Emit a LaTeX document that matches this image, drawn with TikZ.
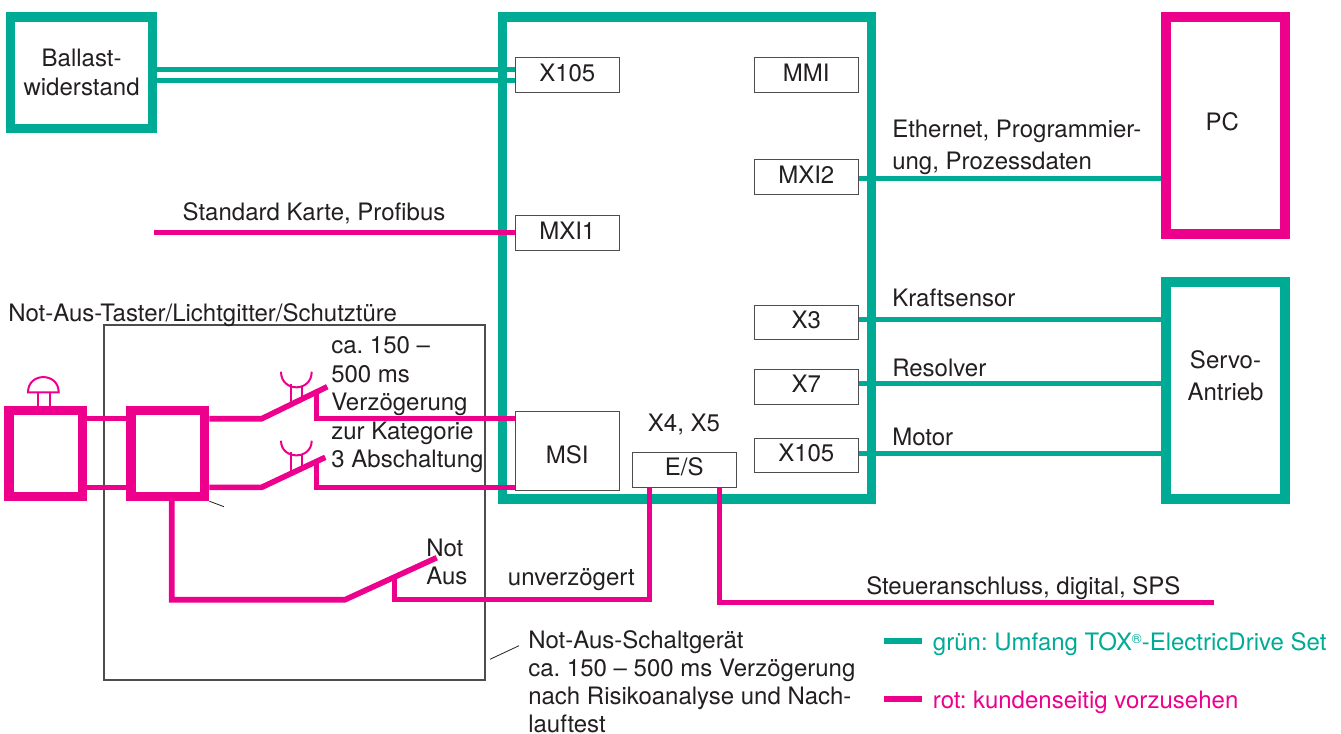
\documentclass[tikz,border=0pt]{standalone}
\usepackage{fontspec}
\setmainfont{TeX Gyre Heros}
\definecolor{gruen}{HTML}{00AB96}
\definecolor{rot}{HTML}{EC008C}
\definecolor{ink}{HTML}{231F20}
\begin{document}
\begin{tikzpicture}[x=.75pt,y=-.75pt,
  every node/.style={inner sep=0pt,text=ink,font=\fontsize{18}{21.4}\selectfont\frenchspacing},
  greenbox/.style={draw=gruen,line width=7pt,fill=white},
  redbox/.style={draw=rot,line width=7pt,fill=white},
  port/.style={draw=ink!80,line width=.9pt,fill=white,minimum width=78pt,minimum height=26pt,text height=9pt,text depth=0pt},
  lab/.style={anchor=base west},
  mlab/.style={anchor=base west,align=left},
  gline/.style={draw=gruen,line width=3.75pt},
  rline/.style={draw=rot,line width=3.75pt},
  blade/.style={draw=rot,line width=4.2pt},
  act/.style={draw=rot,line width=1.5pt},
  thin/.style={draw=ink,line width=.6pt}]
\useasboundingbox (0,0) rectangle (1341,733);
% enclosures
\node[draw=ink!80,line width=.8pt,minimum width=285.75pt,minimum height=266.25pt] (relay) at (294.5,502.5) {};
\node[draw=gruen,line width=7.2pt,minimum width=276.75pt,minimum height=361.5pt] (main) at (687,258) {};
% ports
\node[port] (x105l) at (567.3,75) {X105};
\node[port] (mxi1) at (567.3,233) {MXI1};
\node[port] (mmi) at (806.3,75) {MMI};
\node[port] (mxi2) at (806.3,177.2) {MXI2};
\node[port] (x3) at (806.3,322.5) {X3};
\node[port] (x7) at (806.3,386.8) {X7};
\node[port] (x105r) at (806.3,455.5) {X105};
\node[port,minimum height=59pt,text height=19pt] (msi) at (567.3,451) {MSI};
\node[port] (es) at (684.3,469.8) {E/S};
% external boxes
\node[greenbox,minimum width=106.3pt,minimum height=83.8pt,align=center,text height=34.7pt,text depth=0pt,font=\fontsize{18}{22}\selectfont\frenchspacing] (ballast) at (81.6,72.85) {Ballast-\\widerstand};
\node[redbox,minimum width=89.25pt,minimum height=162.75pt,text height=6.75pt,text depth=0pt] (pc) at (1225.5,125.5) {\hspace*{-5pt}PC};
\node[greenbox,minimum width=89.25pt,minimum height=162.75pt,align=center,text height=14.25pt,text depth=0pt,font=\fontsize{18}{24}\selectfont\frenchspacing] (servo) at (1225.5,390.5) {Servo-\\Antrieb};
\node[redbox,minimum width=55.3pt,minimum height=64.4pt] (m1) at (45.85,453.6) {};
\node[redbox,minimum width=55.3pt,minimum height=64.4pt] (m2) at (167.85,453.6) {};
% green connectors
\draw[gline] (ballast.east |- 0,69.7) -- (x105l.west |- 0,69.7);
\draw[gline] (ballast.east |- 0,80.7) -- (x105l.west |- 0,80.7);
\draw[gline] (mxi2.east |- 0,178.3) -- (pc.west |- 0,178.3);
\draw[gline] (x3.east |- 0,319.7) -- (servo.west |- 0,319.7);
\draw[gline] (x7.east |- 0,383.7) -- (servo.west |- 0,383.7);
\draw[gline] (x105r.east |- 0,453.7) -- (servo.west |- 0,453.7);
% switch geometry
\coordinate (s1a) at (261.7,418.7);
\coordinate (s1b) at (327.3,386.7);
\coordinate (s1c) at (316.7,391);
\coordinate (s2a) at (261.7,487.3);
\coordinate (s2b) at (325.3,457.3);
\coordinate (s2c) at (316.7,461);
\coordinate (s3a) at (345,599.7);
\coordinate (s3b) at (436.7,557.7);
\coordinate (s3c) at (394,577);
\coordinate (prof) at (154,232.3);
\coordinate (sps) at (1214,602.3);
% red connectors
\draw[rline] (prof) -- (mxi1.west |- prof);
\draw[rline] (m1.east |- 0,418.7) -- (m2.west |- 0,418.7);
\draw[rline] (m1.east |- 0,487.3) -- (m2.west |- 0,487.3);
\draw[blade] (m2.east |- s1a) -- (s1a) -- (s1b);
\draw[blade] (m2.east |- s2a) -- (s2a) -- (s2b);
\draw[rline] (s1c) |- (msi.west |- s1a);
\draw[rline] (s2c) |- (msi.west |- s2a);
\draw[blade] (171.7,0 |- m2.south) |- (s3a) -- (s3b);
\draw[rline] (s3c) |- (649,599.3) -- (649,0 |- es.south);
\draw[rline] (719.3,0 |- es.south) |- (sps);
% actuators
\coordinate (u1l) at (281,371.7);
\coordinate (u1r) at (311.7,371.7);
\coordinate (u2l) at (281,440.7);
\coordinate (u2r) at (311.7,440.7);
\draw[act] (u1l) .. controls (281,392.5) and (311.7,392.5) .. (u1r);
\draw[act] (u2l) .. controls (281,460.2) and (311.7,460.2) .. (u2r);
\draw[act] (291,384) -- (291,404);
\draw[act] (302.3,386) -- (302.3,399);
\draw[act] (291,452) -- (291,473);
\draw[act] (302.3,454) -- (302.3,468);
\coordinate (capl) at (28,392.3);
\coordinate (capr) at (58.7,392.3);
\draw[act] (capl) .. controls (28,372) and (58.7,372) .. (capr) -- cycle;
\draw[act] (38,392.3) -- (38,0 |- m1.north);
\draw[act] (50,392.3) -- (50,0 |- m1.north);
% leader lines
\coordinate (l1) at (224,506.7);
\coordinate (l2) at (490,659.3);
\coordinate (l3) at (519,645.7);
\draw[thin] (m2.south east) -- (l1);
\draw[thin] (l2) -- (l3);
% labels
\node[lab] (tnotaus) at (8,321) {Not-Aus-Taster/Lichtgitter/Schutzt\"ure};
\node[lab] (tprof) at (182.4,220.3) {Standard Karte, Profibus};
\node[mlab] (tdelay) at (331,467.7) {ca. 150 --\\500 ms\\Verz\"ogerung\\zur Kategorie\\3 Abschaltung};
\node[mlab] (tnot) at (426,584.7) {Not\\Aus};
\node[lab] (tunv) at (507.7,585) {unverz\"ogert};
\node[anchor=base] (tx45) at (684,431.7) {X4, X5};
\node[mlab,font=\fontsize{18}{21}\selectfont\frenchspacing] (tgeraet) at (528,732) {Not-Aus-Schaltger\"at\\ca. 150 -- 500 ms Verz\"ogerung\\nach Risikoanalyse und Nach-\\lauftest};
\node[mlab,font=\fontsize{18}{24}\selectfont\frenchspacing] (teth) at (892,169) {Ethernet, Programmier-\\ung, Prozessdaten};
\node[lab] (tkraft) at (892,306.7) {Kraftsensor};
\node[lab] (tres) at (892,376.7) {Resolver};
\node[lab] (tmot) at (892,445) {Motor};
\node[lab] (tsps) at (866,594) {Steueranschluss, digital, SPS};
% legend
\coordinate (lg1) at (884.3,641);
\coordinate (lg2) at (921.7,641);
\coordinate (lr1) at (884.3,699);
\coordinate (lr2) at (921.7,699);
\draw[draw=gruen,line width=4.5pt] (lg1) -- (lg2);
\draw[draw=rot,line width=4.5pt] (lr1) -- (lr2);
\node[lab,text=gruen] (tgruen) at (932.7,650) {gr\"un: Umfang TOX{\raisebox{.55ex}{\fontsize{10}{10}\selectfont ®}}-ElectricDrive Set};
\node[lab,text=rot] (trot) at (932.7,708) {rot: kundenseitig vorzusehen};
\end{tikzpicture}
\end{document}
